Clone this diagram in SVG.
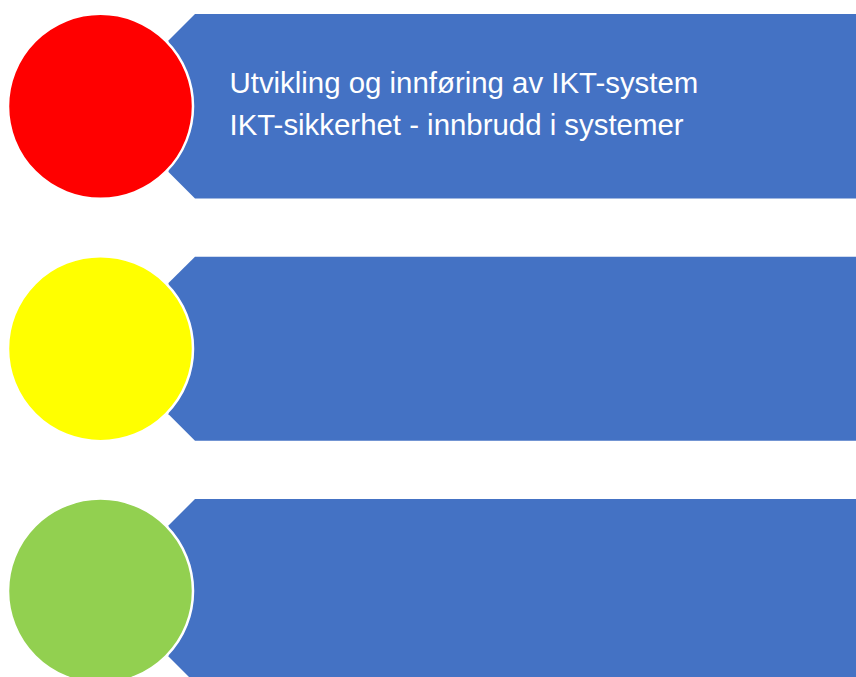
<svg xmlns="http://www.w3.org/2000/svg" width="856" height="677" viewBox="0 0 856 677">
<style>
.banner{fill:#4472C4}
.dot{stroke:#FFFFFF;stroke-width:2.5}
.lbl{font-family:"Liberation Sans",Arial,sans-serif;font-size:29.4px;fill:#FFFFFF}
</style>
<rect width="856" height="677" fill="#FFFFFF"/>
<g id="node1">
<polygon class="banner" points="195,14 860,14 860,198.5 195,198.5 168.5,172 168.5,40.5"/>
<circle class="dot" cx="100.5" cy="106.3" r="92.5" fill="#FF0000"/>
<text class="lbl" x="229.5" y="93.3">Utvikling og innføring av IKT-system</text>
<text class="lbl" x="229.5" y="135">IKT-sikkerhet - innbrudd i systemer</text>
</g>
<g id="node2">
<polygon class="banner" points="195,256.7 860,256.7 860,440.7 195,440.7 168.5,414.3 168.5,283"/>
<circle class="dot" cx="100.5" cy="348.7" r="92.5" fill="#FFFF00"/>
</g>
<g id="node3">
<polygon class="banner" points="195,499 860,499 860,683 195,683 168.5,656.5 168.5,525.5"/>
<circle class="dot" cx="100.5" cy="591" r="92.5" fill="#92D050"/>
</g>
<g id="connectors"></g>
</svg>
